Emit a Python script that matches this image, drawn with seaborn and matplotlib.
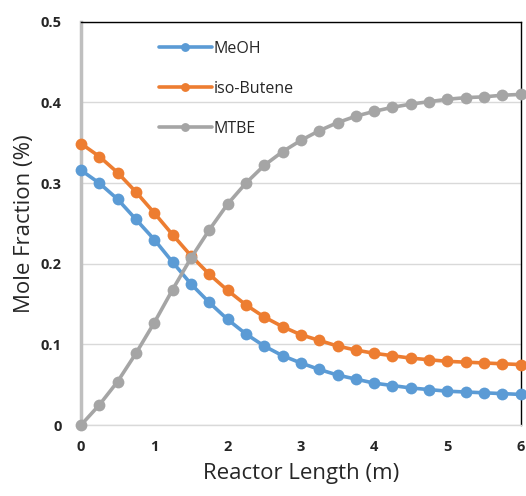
import numpy as np
import pandas as pd
import matplotlib
matplotlib.use("Agg")
import matplotlib.pyplot as plt
import seaborn as sns

length = [0, 0.25, 0.5, 0.75, 1.0, 1.25, 1.5, 1.75, 2.0, 2.25, 2.5, 2.75, 3.0,
          3.25, 3.5, 3.75, 4.0, 4.25, 4.5, 4.75, 5.0, 5.25, 5.5, 5.75, 6.0]
meoh = [0.316, 0.300, 0.280, 0.255, 0.230, 0.202, 0.175, 0.152, 0.131, 0.113,
        0.098, 0.086, 0.077, 0.069, 0.062, 0.057, 0.052, 0.049, 0.046, 0.044,
        0.042, 0.041, 0.040, 0.039, 0.038]
isobutene = [0.349, 0.333, 0.313, 0.289, 0.263, 0.236, 0.210, 0.187, 0.167, 0.149,
             0.134, 0.122, 0.112, 0.105, 0.098, 0.093, 0.089, 0.086, 0.083, 0.081,
             0.079, 0.078, 0.077, 0.076, 0.075]
mtbe = [0.000, 0.025, 0.054, 0.089, 0.127, 0.168, 0.207, 0.242, 0.274, 0.300,
        0.322, 0.339, 0.353, 0.365, 0.375, 0.383, 0.389, 0.394, 0.398, 0.401,
        0.404, 0.406, 0.407, 0.409, 0.410]
series_names = ["MeOH", "iso-Butene", "MTBE"]
colors = ["#5B9BD5", "#ED7D31", "#A5A5A5"]
x_ticks = [0, 1, 2, 3, 4, 5, 6]
y_ticks = [0, 0.1, 0.2, 0.3, 0.4, 0.5]
y_ticklabels = ["0", "0.1", "0.2", "0.3", "0.4", "0.5"]

df = pd.DataFrame({
    "Reactor Length (m)": length * 3,
    "Mole Fraction (%)": meoh + isobutene + mtbe,
    "Species": [series_names[0]] * len(length) + [series_names[1]] * len(length)
               + [series_names[2]] * len(length),
})

sns.set_style("white")
plt.rcParams["font.family"] = ["Open Sans", "DejaVu Sans"]

fig = plt.figure(figsize=(5.26, 4.96), dpi=100)
ax = fig.add_axes([0.154, 0.143, 0.836, 0.813])

sns.lineplot(data=df, x="Reactor Length (m)", y="Mole Fraction (%)", hue="Species",
             palette=dict(zip(series_names, colors)), marker="o", markersize=8.5,
             markeredgewidth=0, linewidth=2.6, ax=ax, zorder=3, clip_on=False)

ax.set_xlim(0, 6)
ax.set_ylim(0, 0.5)
ax.set_xticks(x_ticks)
ax.set_xticklabels([str(t) for t in x_ticks], fontweight="bold", fontsize=10.5)
ax.set_yticks(y_ticks)
ax.set_yticklabels(y_ticklabels, fontweight="bold", fontsize=10.5)
ax.tick_params(axis="x", length=0, pad=11)
ax.tick_params(axis="y", length=0, pad=14)
ax.yaxis.grid(True, color="#D9D9D9", linewidth=1)
ax.set_axisbelow(True)

for s in ["top", "right"]:
    ax.spines[s].set_color("black")
    ax.spines[s].set_linewidth(1.0)
ax.spines["left"].set_color("#BFBFBF")
ax.spines["left"].set_linewidth(2.5)
ax.spines["bottom"].set_color("#D9D9D9")
ax.spines["bottom"].set_linewidth(1)

ax.set_xlabel("Reactor Length (m)", fontsize=16, labelpad=6)
ax.set_ylabel("Mole Fraction (%)", fontsize=16, labelpad=4)

leg = ax.legend(loc="upper left", bbox_to_anchor=(0.145, 0.988), frameon=False,
                fontsize=11.5, handlelength=3.3, labelspacing=1.5, handletextpad=0.1,
                title=None, markerscale=0.75)

fig.savefig("out.png", dpi=100)
